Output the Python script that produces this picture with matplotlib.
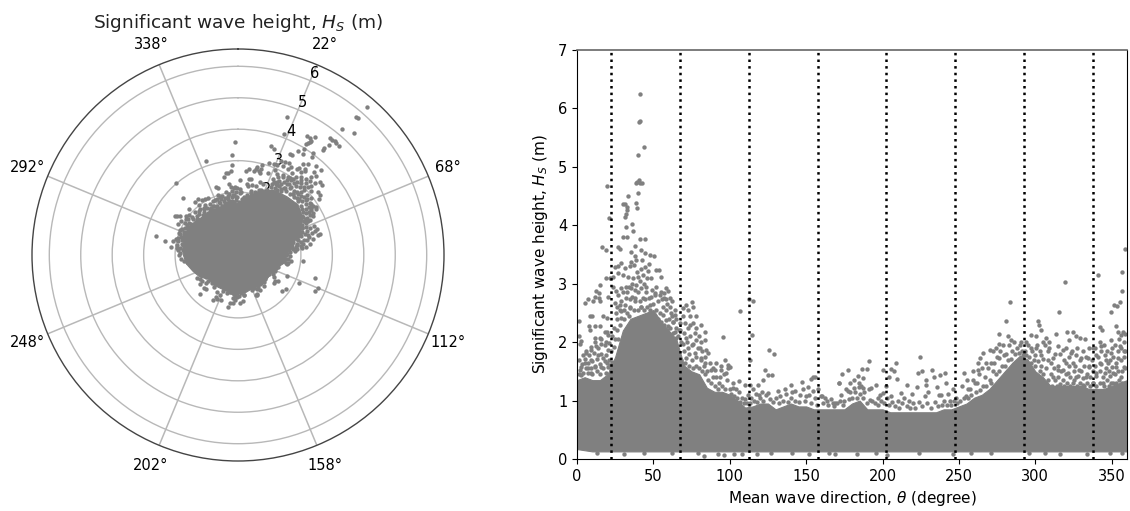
"""Hs vs mean wave direction: polar view and cartesian view of the same records."""
import numpy as np
import matplotlib
matplotlib.use("Agg")
import matplotlib.pyplot as plt

GRAY = "#808080"

# sector boundaries
SECTOR_DIRS = [22.5, 67.5, 112.5, 157.5, 202.5, 247.5, 292.5, 337.5]
SECTOR_LABELS = ["22°", "68°", "112°", "158°", "202°", "248°", "292°", "338°"]
HS_TICKS = [1, 2, 3, 4, 5, 6]

# solid body of the cloud, top and bottom edge read every 5 degrees
BODY_DIR = list(range(0, 365, 5))
BODY_TOP = [1.35, 1.4, 1.35, 1.35, 1.45, 1.75, 2.2, 2.4, 2.45, 2.5, 2.55, 2.35, 2.2,
            2.05, 1.6, 1.5, 1.45, 1.22, 1.15, 1.15, 1.1, 1.0, 0.88, 0.9, 0.95, 0.95,
            0.85, 0.9, 0.95, 0.9, 0.9, 0.85, 0.85, 0.85, 0.85, 0.85, 0.95, 1.0, 0.85,
            0.85, 0.85, 0.8, 0.8, 0.8, 0.8, 0.8, 0.8, 0.8, 0.85, 0.85, 0.9, 0.95, 1.05,
            1.1, 1.2, 1.35, 1.5, 1.65, 1.77, 1.7, 1.5, 1.4, 1.25, 1.25, 1.25, 1.25,
            1.25, 1.2, 1.2, 1.2, 1.25, 1.3, 1.35]
BODY_LOW = [0.17, 0.15, 0.13, 0.13, 0.13, 0.13, 0.13, 0.13, 0.13, 0.13, 0.13, 0.13, 0.13,
            0.13, 0.13, 0.13, 0.13, 0.13, 0.13, 0.13, 0.13, 0.13, 0.13, 0.13, 0.13, 0.13,
            0.13, 0.13, 0.13, 0.13, 0.13, 0.13, 0.13, 0.13, 0.13, 0.13, 0.13, 0.13, 0.13,
            0.13, 0.13, 0.13, 0.13, 0.13, 0.13, 0.13, 0.13, 0.13, 0.13, 0.13, 0.13, 0.13,
            0.13, 0.13, 0.13, 0.13, 0.13, 0.13, 0.13, 0.13, 0.13, 0.13, 0.13, 0.13, 0.13,
            0.13, 0.13, 0.13, 0.13, 0.13, 0.13, 0.13, 0.13]

# solid edge as it reads in the polar panel, where the dots close up, every 10 degrees
POLAR_DIR = list(range(0, 370, 10))
POLAR_TOP = [1.65, 1.88, 2.2, 2.36, 2.42, 2.49, 2.37, 2.13, 1.73, 1.55, 1.49, 1.27, 1.2,
             1.2, 1.14, 1.17, 1.17, 1.23, 1.22, 1.25, 1.2, 1.2, 1.23, 1.2, 1.4, 1.52,
             1.66, 1.74, 1.78, 1.82, 1.78, 1.72, 1.63, 1.68, 1.58, 1.66, 1.65]

# single records outside the body
PEAK_DIR = [41.2, 40.6, 41.2, 43.6, 39.7, 40.4, 38.4, 39.3, 41.4, 42.8, 39.7, 38.8, 39.0,
            33.2, 29.9, 31.4, 32.7, 32.5, 31.8, 31.4, 19.6, 20.9, 36.2, 31.8, 36.9, 29.9,
            32.7, 41.4, 44.3, 16.6, 18.8, 27.0, 28.4, 37.7, 35.6, 42.2, 44.5, 48.0, 50.2,
            37.7, 35.1, 38.8, 42.8, 47.1, 29.0, 26.8, 24.7, 31.2, 34.5, 37.0, 44.3, 51.5,
            53.7, 55.2, 18.8, 21.4, 15.0, 23.6, 26.8, 30.1, 33.4, 36.6, 39.9, 43.2, 46.5,
            48.6, 12.2, 14.6, 11.8, 14.2, 20.3, 7.0, 5.5, 10.5, 14.8, 23.6, 25.7, 29.0,
            32.3, 35.6, 38.8, 42.1, 45.4, 50.8, 54.1, 58.5, 56.7, 59.6, 60.6, 58.5, 62.4,
            55.8, 24.7, 27.9, 31.2, 34.5, 37.7, 41.0, 44.3, 48.6, 47.6, 25.7, 29.0, 34.5,
            42.1]
PEAK_HS = [6.25, 5.76, 5.79, 5.34, 5.2, 4.78, 4.73, 4.74, 4.73, 4.72, 4.55, 4.38, 4.3,
           4.5, 4.37, 4.37, 4.32, 4.26, 4.2, 4.15, 4.67, 4.12, 4.02, 3.97, 3.9, 3.8,
           3.8, 3.77, 3.76, 3.62, 3.57, 3.62, 3.6, 3.64, 3.55, 3.58, 3.53, 3.49, 3.48,
           3.47, 3.38, 3.41, 3.4, 3.34, 3.35, 3.31, 3.28, 3.27, 3.31, 3.32, 3.28, 3.24,
           3.23, 3.12, 3.1, 3.1, 2.97, 3.12, 3.18, 3.15, 3.12, 3.1, 3.12, 3.15, 3.21,
           3.1, 2.87, 2.84, 2.78, 2.75, 2.78, 2.74, 2.67, 2.71, 2.7, 2.95, 2.87, 2.92,
           2.95, 2.92, 2.98, 2.92, 2.95, 2.84, 2.81, 2.92, 2.84, 2.87, 2.75, 2.73, 2.7,
           2.73, 2.67, 2.64, 2.64, 2.73, 2.75, 2.7, 2.73, 2.78, 2.64, 2.5, 2.53, 2.58,
           2.61]

EAST_DIR = [75.5, 71.6, 75.9, 69.4, 72.6, 78.1, 73.7, 69.4, 70.5, 75.9, 81.4, 72.6, 78.1,
            83.6, 67.2, 63.9, 61.7, 67.2, 73.7, 78.1, 83.6, 71.6, 81.4, 75.9, 84.6, 85.7,
            80.3, 72.6, 69.4, 77.0, 81.4, 83.6, 71.6, 87.9, 58.5, 62.8, 56.3, 59.6, 63.9,
            65.0, 57.4, 106.5, 95.5, 115.2, 112.6, 114.5, 113.4, 125.4, 129.1, 122.8, 125.0,
            127.8, 96.6, 91.2, 98.8, 90.1, 94.5, 99.9, 89.0, 93.4, 97.7, 106.0, 102.1, 109.7,
            113.0, 115.2, 121.7, 118.5, 119.1, 125.0, 131.5, 135.9, 140.3, 142.5, 147.5, 151.2,
            153.4, 155.5, 154.5, 150.1, 159.9, 168.6, 171.5]
EAST_HS = [2.68, 2.64, 2.61, 2.58, 2.55, 2.44, 2.44, 2.44, 2.33, 2.33, 2.3, 2.24, 2.24,
           2.18, 2.33, 2.47, 2.5, 2.21, 2.1, 2.04, 2.04, 2.07, 2.01, 1.96, 1.87, 1.81,
           1.9, 1.9, 1.96, 1.81, 1.73, 1.64, 1.73, 1.53, 2.38, 2.35, 2.47, 2.27, 2.18,
           2.07, 2.04, 2.54, 2.09, 2.71, 2.74, 2.13, 1.7, 1.86, 1.8, 1.52, 1.44,
           1.44, 1.7, 1.64, 1.61, 1.53, 1.53, 1.58, 1.41, 1.41, 1.47, 1.33, 1.21, 1.27,
           1.27, 1.19, 1.35, 1.27, 1.1, 1.13, 1.16, 1.19, 1.27, 1.16, 1.31, 1.24,
           1.37, 1.41, 1.16, 1.07, 1.07, 0.96, 1.3]

NORTH_DIR = [1.3, 1.3, 2.8, 1.7, 1.3, 2.8, 6.1, 3.9, 8.3, 10.0, 7.6, 8.3, 11.6, 14.8, 11.6,
             14.8, 18.1, 19.6, 17.0, 19.6, 9.4, 12.7, 15.9, 19.2, 5.0, 9.4, 13.7, 17.0, 20.3,
             7.2, 11.6, 15.9, 19.6, 21.8, 2.8, 9.4]
NORTH_HS = [2.37, 2.11, 2.02, 1.96, 1.69, 1.58, 1.81, 1.78, 2.44, 2.45, 2.27, 2.21, 2.27, 2.27, 2.07,
            2.07, 2.18, 2.18, 2.44, 2.41, 1.87, 1.93, 1.96, 2.01, 1.64, 1.7, 1.78, 1.73, 1.87,
            1.56, 1.58, 1.58, 1.64, 1.61, 1.44, 1.47]

WEST_DIR = [358.6, 356.4, 356.4, 341.1, 319.3, 355.5, 351.8, 353.3, 349.8, 315.8, 283.1, 280.9,
            301.9, 302.3, 297.3, 303.8, 276.5, 313.6, 320.6, 324.5, 326.7, 329.3, 332.2, 342.0,
            343.7, 352.9, 354.0, 357.3, 359.0, 356.2, 282.0, 284.2, 276.1, 274.4, 270.0, 272.2,
            290.7, 293.6, 300.5, 307.1, 304.9, 308.8, 314.7, 318.0, 321.9, 337.6, 342.0, 343.1,
            349.6, 355.1, 358.3, 265.6, 263.5, 262.4, 267.8, 271.1, 276.5, 279.8, 297.3, 300.5,
            303.8, 308.2, 310.4, 311.4, 320.2, 323.4, 326.7, 330.0, 334.3, 339.8, 345.3, 349.6,
            354.0, 318.0, 324.5, 328.9, 335.4, 342.0, 347.4, 352.9, 358.3, 311.4, 314.7, 321.3,
            326.7, 333.3, 339.8, 345.3, 350.7, 356.2, 324.5, 331.1, 337.6, 344.2, 349.6, 318.0,
            262.4, 259.1, 255.8, 253.2, 260.8, 254.7]
WEST_HS = [3.6, 3.2, 2.88, 3.15, 3.03, 2.69, 2.64, 2.62, 2.52, 2.52, 2.69, 2.37,
           2.37, 2.3, 2.13, 2.21, 2.14, 2.14, 2.17, 2.18, 2.11, 2.07, 2.05, 2.26,
           2.21, 2.27, 2.18, 2.18, 2.14, 2.13, 2.11, 2.04, 1.96, 1.9, 1.87, 1.84,
           2.01, 2.01, 2.1, 2.07, 2.01, 2.01, 1.93, 1.87, 2.03, 1.9, 2.01, 1.93,
           2.03, 1.93, 1.84, 1.81, 1.73, 1.64, 1.64, 1.64, 1.73, 1.78, 1.9, 1.9,
           1.78, 1.84, 1.64, 1.73, 1.64, 1.81, 1.78, 1.73, 1.73, 1.78, 1.78, 1.81,
           1.73, 1.53, 1.64, 1.53, 1.58, 1.64, 1.64, 1.58, 1.58, 1.41, 1.53, 1.47,
           1.41, 1.41, 1.47, 1.47, 1.47, 1.41, 1.3, 1.27, 1.3, 1.3, 1.3, 1.21,
           1.53, 1.36, 1.19, 1.48, 1.3, 1.07]

SOUTH_DIR = [224.2, 208.9, 190.8, 186.4, 189.7, 177.7, 173.4, 171.8, 200.2, 205.2, 207.4, 209.6,
             203.9, 223.1, 225.7, 232.3, 233.6, 237.9, 240.6, 228.6, 216.1, 222.7, 228.6, 241.6,
             235.5, 154.4, 178.4, 184.9, 187.1, 184.9, 181.6, 187.1, 177.3, 172.9, 195.8, 192.6,
             200.2, 205.6, 212.2, 217.6, 227.5, 238.4, 246.0, 248.2, 160.5, 163.5, 167.5, 196.9,
             191.5]
SOUTH_HS = [1.74, 1.65, 1.67, 1.54, 1.54, 1.52, 1.46, 1.3, 1.52, 1.54, 1.5, 1.37,
            1.4, 1.48, 1.5, 1.52, 1.41, 1.44, 1.48, 1.35, 1.27, 1.23, 1.27, 1.3,
            1.23, 1.4, 1.3, 1.3, 1.39, 1.24, 1.21, 1.21, 1.16, 1.1, 1.27, 1.21,
            1.13, 1.07, 1.13, 0.99, 1.08, 1.1, 1.19, 1.04, 1.08, 1.0, 0.95, 1.04,
            1.01]

# lowest records along the bottom of the cloud
LOW_DIR = [13, 31, 44, 62, 79, 83, 92, 96, 103, 108, 118, 127, 141, 152, 165, 169, 183, 196,
           203, 224, 246, 258, 271, 296, 306, 316, 334, 349, 357]
LOW_HS = [0.11, 0.09, 0.11, 0.1, 0.11, 0.05, 0.08, 0.07, 0.08, 0.08, 0.09, 0.1, 0.1, 0.09, 0.11, 0.09,
          0.09, 0.1, 0.07, 0.1, 0.09, 0.11, 0.11, 0.1, 0.1, 0.09, 0.08, 0.1, 0.1]

# crowded band right above the body, one pair of lists per stretch of direction
BAND_N_DIR = [1, 2, 3, 4, 5, 6, 6, 7, 7, 8, 9, 9, 10, 10, 11, 12, 12, 13, 13, 14, 15, 15, 16, 16,
              17, 18, 18, 19, 19, 20, 20, 21, 21, 22, 22, 23, 23, 24, 24, 25, 26, 26]
BAND_N_HS = [1.45, 1.52, 1.62, 1.47, 1.72, 1.55, 1.85, 1.65, 1.48, 1.78, 1.56, 1.92, 1.68, 1.46,
             1.82, 1.6, 2.0, 1.5, 1.72, 1.9, 1.62, 1.46, 1.8, 2.05, 1.55, 1.68, 1.95, 1.48, 1.78,
             2.12, 1.58, 1.7, 1.98, 1.52, 1.85, 1.66, 2.1, 1.92, 2.25, 2.05, 2.2, 2.4]

BAND_NE_DIR = [26, 27, 27, 28, 28, 29, 29, 30, 31, 31, 32, 33, 33, 34, 34, 35, 36, 36, 37, 38, 38,
               39, 40, 40, 41, 42, 42, 43, 44, 44, 45, 46, 46, 47, 48, 49, 50, 51, 52, 52, 53, 53,
               54, 55, 55, 56, 57, 57, 58, 59, 59, 60, 61, 61, 62, 63, 63, 64, 65, 65, 66, 67]
BAND_NE_HS = [2.6, 2.05, 2.8, 2.3, 2.55, 2.42, 2.7, 2.85, 2.4, 2.55, 2.75, 2.5, 2.85, 2.45, 2.95,
              2.6, 2.78, 3.0, 2.55, 2.7, 2.9, 3.2, 2.55, 2.85, 3.05, 2.6, 3.25, 2.75, 2.55, 3.0,
              2.85, 2.6, 3.1, 2.75, 2.55, 2.9, 2.65, 2.8, 2.55, 2.95, 2.4, 2.7, 2.5, 2.85, 2.35,
              2.6, 2.3, 2.75, 2.55, 2.2, 2.65, 2.4, 2.25, 2.6, 2.45, 2.15, 2.35, 2.55, 2.25, 2.4,
              2.1, 2.2]

BAND_E_DIR = [68, 68, 69, 70, 70, 71, 72, 73, 73, 74, 75, 75, 76, 77, 78, 78, 79, 80, 80, 81, 82,
              82, 83, 84, 84, 85, 86, 87, 88, 89, 90, 91, 92, 93, 94, 95, 96, 97, 98, 99, 100, 101,
              102, 103, 104, 105, 106, 107, 108, 109, 110]
BAND_E_HS = [1.7, 2.0, 1.6, 1.85, 2.15, 1.65, 2.0, 1.6, 1.8, 2.3, 1.7, 1.95, 1.55, 2.15, 1.75, 1.6,
             1.9, 1.55, 2.1, 1.7, 1.5, 1.85, 1.6, 1.45, 1.75, 1.5, 1.35, 1.65, 1.3, 1.55, 1.25, 1.4,
             1.2, 1.3, 1.6, 1.25, 1.45, 1.2, 1.35, 1.55, 1.2, 1.12, 1.3, 1.08, 1.2, 1.05, 1.15,
             0.98, 1.05, 0.95, 1.02]

BAND_SE_DIR = [111, 112, 113, 114, 116, 117, 118, 120, 121, 122, 124, 126, 128, 130, 132, 133, 135,
               137, 138, 140, 141, 143, 145, 146, 148, 149, 152, 153, 156, 157, 158, 161, 162, 164,
               166, 168, 170, 172, 174]
BAND_SE_HS = [0.95, 1.1, 0.95, 1.05, 1.0, 1.12, 0.98, 1.05, 1.15, 1.0, 1.1, 1.02, 0.97, 1.05, 0.95,
              1.08, 1.0, 1.12, 0.98, 1.05, 1.15, 1.0, 0.97, 1.1, 1.2, 1.0, 1.1, 0.95, 1.05, 0.92,
              1.2, 0.95, 1.05, 0.92, 1.02, 0.9, 0.95, 1.0, 0.92]

BAND_S_DIR = [175, 176, 178, 179, 180, 181, 182, 183, 184, 185, 186, 187, 188, 190, 191, 193, 195,
              197, 198, 199, 201, 202, 203, 204, 206, 208, 210, 211, 213, 214, 216, 218, 219, 220,
              221, 224, 226, 229, 230, 232, 234, 236, 237, 239, 240, 242, 243, 244, 245, 247, 249]
BAND_S_HS = [1.0, 1.2, 1.02, 1.15, 1.05, 1.35, 1.15, 1.05, 1.42, 1.12, 1.25, 1.05, 1.15, 0.95, 1.2,
             1.0, 0.95, 0.93, 1.1, 1.0, 0.95, 1.25, 1.05, 0.92, 0.98, 0.9, 1.0, 0.88, 0.95, 1.05,
             0.9, 0.88, 1.12, 0.95, 0.88, 0.98, 0.9, 0.95, 1.15, 0.88, 0.98, 0.9, 1.1, 0.92, 1.0,
             0.92, 1.12, 1.0, 0.92, 1.0, 0.95]

BAND_W_DIR = [251, 252, 253, 255, 256, 257, 258, 259, 261, 262, 263, 264, 265, 266, 267, 268, 269,
              270, 271, 272, 273, 274, 275, 276, 277, 278, 279, 280, 281, 282, 283, 284, 285, 286,
              287, 288, 289, 290, 291, 292]
BAND_W_HS = [1.0, 1.25, 1.05, 1.35, 1.05, 1.2, 1.1, 1.5, 1.15, 1.3, 1.45, 1.18, 1.55, 1.25, 1.4,
             1.25, 1.55, 1.35, 1.3, 1.5, 1.65, 1.45, 1.75, 1.5, 1.85, 1.6, 1.95, 1.6, 1.8, 1.7,
             1.95, 1.72, 1.85, 2.0, 1.8, 1.9, 1.82, 1.95, 1.85, 1.78]

BAND_NW_DIR = [293, 294, 295, 296, 297, 298, 299, 300, 300, 301, 302, 303, 303, 304, 305, 305, 306,
               307, 308, 308, 309, 310, 311, 312, 313, 313, 314, 315, 315, 316, 316, 317, 318, 319,
               319, 320, 320, 321, 322, 322, 323, 323, 324, 325, 325, 326, 327, 327, 328, 329, 329,
               330, 331, 331, 332, 332, 333, 334, 334, 335, 335, 336, 336, 337, 338, 338, 339, 339,
               340, 340, 341, 342, 342, 343, 343, 344, 345, 345, 346, 346, 347, 347, 348, 348, 349,
               349, 350, 350, 351, 351, 352, 352, 353, 353, 354, 354, 355, 355, 356, 356, 357, 357,
               358, 358, 359, 359]
BAND_NW_HS = [1.85, 1.78, 1.95, 1.75, 1.65, 1.85, 1.7, 1.6, 1.78, 1.95, 1.68, 1.5, 1.85, 1.6, 1.45,
              1.72, 1.95, 1.55, 1.35, 1.7, 1.9, 1.45, 1.25, 1.55, 1.35, 1.8, 1.25, 1.6, 1.4, 1.28,
              1.8, 1.5, 1.35, 1.7, 1.25, 1.45, 1.9, 1.3, 1.6, 1.75, 1.4, 1.25, 1.85, 1.5, 1.35, 1.6,
              1.25, 1.9, 1.42, 1.7, 1.3, 1.5, 1.85, 1.38, 1.6, 1.25, 1.75, 1.45, 1.3, 1.9, 1.6,
              1.25, 1.4, 1.7, 1.5, 1.3, 1.9, 1.6, 1.25, 1.42, 1.75, 1.5, 1.3, 1.85, 1.62, 1.4, 1.25,
              1.95, 1.55, 1.7, 1.35, 1.85, 1.5, 1.25, 1.7, 1.42, 1.9, 1.58, 1.3, 1.75, 1.45, 1.95,
              1.65, 1.3, 1.85, 1.5, 1.35, 2.05, 1.7, 1.9, 1.5, 1.3, 1.75, 2.0, 1.55, 1.85]

wave_dir = np.array(PEAK_DIR + EAST_DIR + NORTH_DIR + WEST_DIR + SOUTH_DIR + LOW_DIR
                    + BAND_N_DIR + BAND_NE_DIR + BAND_E_DIR + BAND_SE_DIR + BAND_S_DIR
                    + BAND_W_DIR + BAND_NW_DIR)
wave_hs = np.array(PEAK_HS + EAST_HS + NORTH_HS + WEST_HS + SOUTH_HS + LOW_HS
                   + BAND_N_HS + BAND_NE_HS + BAND_E_HS + BAND_SE_HS + BAND_S_HS
                   + BAND_W_HS + BAND_NW_HS)

fig = plt.figure(figsize=(11.3, 5.11), dpi=100)

# polar panel
ax = fig.add_axes([32 / 1130, 50 / 511, 412 / 1130, 412 / 511], projection="polar")
ax.set_theta_zero_location("N")
ax.set_theta_direction(-1)
ax.fill(np.radians(POLAR_DIR), POLAR_TOP, color=GRAY, lw=0.8, zorder=2)
ax.scatter(np.radians(wave_dir), wave_hs, s=10, c=GRAY, linewidths=0, zorder=2)
ax.set_thetagrids(SECTOR_DIRS, SECTOR_LABELS, fontsize=10.5)
ax.set_rticks(HS_TICKS)
ax.set_rlim(0, 6.55)
ax.set_rlabel_position(22.5)
ax.tick_params(axis="x", pad=5)
ax.tick_params(axis="y", labelsize=10.5)
ax.xaxis.grid(True, lw=1.1, color="#b8b8b8")
ax.yaxis.grid(True, lw=1.0, color="#b8b8b8")
ax.spines["polar"].set_color("#444444")
ax.spines["polar"].set_linewidth(1.0)
ax.set_title(r"Significant wave height, $H_S$ (m)", y=1.03, fontsize=13.3, color="#222222")

# cartesian panel
ax = fig.add_axes([577 / 1130, 52 / 511, 550 / 1130, 409 / 511])
ax.fill_between(BODY_DIR, BODY_LOW, BODY_TOP, color=GRAY, lw=0.8, zorder=2)
ax.scatter(wave_dir, wave_hs, s=10, c=GRAY, linewidths=0, zorder=2)
for d in SECTOR_DIRS:
    ax.axvline(d, color="k", ls=":", lw=1.8, zorder=3)
ax.set_xlim(0, 360)
ax.set_ylim(0, 7)
ax.tick_params(labelsize=10.5)
ax.spines["top"].set_color("#666666")
ax.spines["top"].set_linewidth(1.2)
ax.set_xlabel(r"Mean wave direction, $\theta$ (degree)", fontsize=11, labelpad=4)
ax.set_ylabel(r"Significant wave height, $H_S$ (m)", fontsize=11, labelpad=6)

fig.savefig("out.png", dpi=100)
